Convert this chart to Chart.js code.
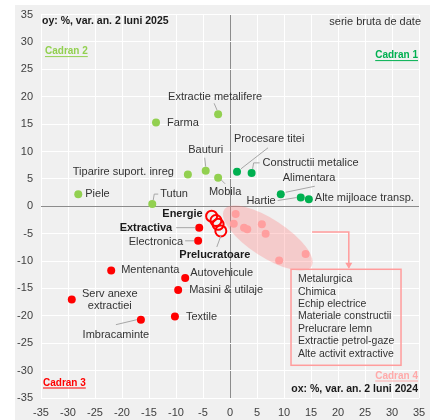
<!doctype html>
<html lang="ro">
<head>
<meta charset="UTF-8"/>
<title>Cadrane industrie</title>
<script src="https://cdn.jsdelivr.net/npm/chart.js@4.4.0/dist/chart.umd.min.js"></script>
<style>
  * { margin: 0; padding: 0; }
  body { background: #ffffff; width: 436px; height: 420px; position: relative; overflow: hidden; }
  #bg { position: absolute; left: 15px; top: 5px; width: 415px; height: 415px; background: #f0f0f0; }
  #chart { position: absolute; left: 0; top: 0; }
</style>
</head>
<body>
<div id="bg"></div>
<canvas id="chart" width="436" height="420"></canvas>
<script>
// Cadran 2 (verde deschis)
const c2Names = ['Extractie metalifere', 'Farma', 'Bauturi', 'Tiparire suport. inreg', 'Mobila', 'Piele', 'Tutun'];
const c2X = [-2.2, -13.7, -4.5, -7.8, -2.2, -28.1, -14.4];
const c2Y = [16.8, 15.3, 6.5, 5.8, 5.2, 2.2, 0.4];

// Cadran 1 (verde)
const c1Names = ['Procesare titei', 'Constructii metalice', 'Alimentara', 'Hartie', 'Alte mijloace transp.'];
const c1X = [1.3, 4.0, 9.4, 13.1, 14.6];
const c1Y = [6.3, 6.1, 2.2, 1.6, 1.3];

// Cadran 3 (rosu)
const c3Names = ['Extractiva', 'Electronica', 'Mentenanta', 'Autovehicule', 'Masini & utilaje', 'Serv anexe extractiei', 'Imbracaminte', 'Textile'];
const c3X = [-5.7, -5.9, -22.0, -8.3, -9.6, -29.3, -16.5, -10.2];
const c3Y = [-3.9, -6.3, -11.7, -13.1, -15.3, -17.0, -20.7, -20.1];

// agregate (cercuri goale)
const aggNames = ['Energie', 'Industrie', 'Extractiva total', 'Prelucratoare'];
const aggX = [-3.4, -2.6, -2.2, -1.7];
const aggY = [-1.8, -2.6, -3.3, -4.5];

// Cadran 4 (roz) - grupul din caseta
const c4Names = ['Metalurgica', 'Chimica', 'Echip electrice', 'Materiale constructii', 'Prelucrare lemn', 'Extractie petrol-gaze', 'Alte activit extractive'];
const c4X = [1.05, 0.7, 2.6, 3.2, 5.9, 6.6, 14.0, 9.1];
const c4Y = [-1.4, -3.2, -3.9, -4.2, -3.3, -5.0, -8.7, -9.9];

const axisTicks = [-35, -30, -25, -20, -15, -10, -5, 0, 5, 10, 15, 20, 25, 30, 35];

// pozitia etichetelor fata de punct (px)
const labelLayout = {
  'Extractie metalifere': { dx: -3, dy: -17, align: 'center', line: [[-4, -11], [-1, -4]] },
  'Farma': { dx: 11, dy: 0, align: 'left' },
  'Bauturi': { dx: 0, dy: -21, align: 'center', line: [[-1, -13], [0, -4]] },
  'Tiparire suport. inreg': { dx: -14, dy: -3, align: 'right' },
  'Mobila': { dx: 7, dy: 14, align: 'center', line: [[3, 2], [7, 6]] },
  'Piele': { dx: 7, dy: 0, align: 'left' },
  'Tutun': { dx: 8, dy: -10, align: 'left', line: [[1, -4], [2, -10], [6, -10]] },
  'Procesare titei': { dx: -3, dy: -33, align: 'left', line: [[31, -24], [4, -3]] },
  'Constructii metalice': { dx: 11, dy: -10, align: 'left', line: [[1, -4], [2, -10], [8, -10]] },
  'Alimentara': { dx: 2, dy: -16, align: 'left', line: [[5, -2], [34, -8]] },
  'Hartie': { dx: -25, dy: 3, align: 'right', line: [[-23, 3], [-4, 0]] },
  'Alte mijloace transp.': { dx: 6, dy: -1, align: 'left' },
  'Extractiva': { dx: -27, dy: 0, align: 'right', bold: true, line: [[-23, 0], [-4, 0]] },
  'Electronica': { dx: -15, dy: 1, align: 'right', line: [[-13, 0], [-4, 0]] },
  'Mentenanta': { dx: 10, dy: 0, align: 'left' },
  'Autovehicule': { dx: 5, dy: -5, align: 'left' },
  'Masini & utilaje': { dx: 11, dy: 0, align: 'left' },
  'Serv anexe extractiei': { dx: 38, dy: -5, align: 'center', lines: ['Serv anexe', 'extractiei'] },
  'Imbracaminte': { dx: -25, dy: 15, align: 'center', line: [[-25, 5], [-4, 0]] },
  'Textile': { dx: 11, dy: 1, align: 'left' },
  'Energie': { dx: -9, dy: -2, align: 'right', bold: true },
  'Prelucratoare': { dx: -6, dy: 24, align: 'center', bold: true, line: [[-4, 16], [0, 5]] }
};

const groupCenter = [7.0, -5.8];
const boxCorner = [11.3, -11.5];
const arrowPath = [[15.2, -4.7], [22.0, -4.7], [22.0, -11.2]];

const FONT = '"Liberation Sans", Arial, sans-serif';

function pts(xs, ys) {
  return xs.map((v, i) => ({ x: v, y: ys[i] }));
}

const annotations = {
  id: 'annotations',
  beforeDatasetsDraw(chart) {
    const ctx = chart.ctx;
    const x = chart.scales.x, y = chart.scales.y;
    ctx.save();
    ctx.fillStyle = 'rgba(255,120,120,0.3)';
    ctx.beginPath();
    ctx.ellipse(x.getPixelForValue(groupCenter[0]), y.getPixelForValue(groupCenter[1]), 52, 19, 33 * Math.PI / 180, 0, Math.PI * 2);
    ctx.fill();
    ctx.restore();
  },
  afterDatasetsDraw(chart) {
    const ctx = chart.ctx;
    const x = chart.scales.x, y = chart.scales.y;
    const area = chart.chartArea;
    ctx.save();
    ctx.textBaseline = 'middle';

    // etichete puncte
    chart.data.datasets.forEach((ds, di) => {
      const meta = chart.getDatasetMeta(di);
      (ds.names || []).forEach((name, i) => {
        const lay = labelLayout[name];
        if (!lay || !meta.data[i]) return;
        const px = meta.data[i].x, py = meta.data[i].y;
        if (lay.line) {
          ctx.strokeStyle = '#a6a6a6';
          ctx.lineWidth = 1;
          ctx.beginPath();
          lay.line.forEach((p, k) => {
            if (k === 0) ctx.moveTo(px + p[0], py + p[1]);
            else ctx.lineTo(px + p[0], py + p[1]);
          });
          ctx.stroke();
        }
        ctx.fillStyle = lay.bold ? '#1a1a1a' : '#333333';
        ctx.font = (lay.bold ? 'bold ' : '') + '11px ' + FONT;
        ctx.textAlign = lay.align;
        const lines = lay.lines || [name];
        lines.forEach((t, k) => ctx.fillText(t, px + lay.dx, py + lay.dy + k * 11.5));
      });
    });

    // sageata spre caseta
    ctx.strokeStyle = '#ff9c9c';
    ctx.fillStyle = '#ff9c9c';
    ctx.lineWidth = 1.5;
    ctx.beginPath();
    arrowPath.forEach((p, k) => {
      const ax = x.getPixelForValue(p[0]), ay = y.getPixelForValue(p[1]);
      if (k === 0) ctx.moveTo(ax, ay); else ctx.lineTo(ax, ay);
    });
    ctx.stroke();
    const last = arrowPath[arrowPath.length - 1];
    const tx = x.getPixelForValue(last[0]), ty = y.getPixelForValue(last[1]);
    ctx.beginPath();
    ctx.moveTo(tx - 3.5, ty - 5);
    ctx.lineTo(tx + 3.5, ty - 5);
    ctx.lineTo(tx, ty + 1);
    ctx.closePath();
    ctx.fill();

    // caseta cu lista
    const bx = x.getPixelForValue(boxCorner[0]), by = y.getPixelForValue(boxCorner[1]);
    ctx.lineWidth = 1.5;
    ctx.strokeRect(bx, by, 110, 96);
    ctx.fillStyle = '#333333';
    ctx.font = '10.5px ' + FONT;
    ctx.textAlign = 'left';
    c4Names.forEach((t, k) => ctx.fillText(t, bx + 7, by + 10 + k * 12.4));

    // texte axe si cadrane
    function txt(t, tx, ty, align, font, color, underline) {
      ctx.font = font;
      ctx.fillStyle = color;
      ctx.textAlign = align;
      ctx.fillText(t, tx, ty);
      if (underline) {
        const w = ctx.measureText(t).width;
        const x0 = align === 'right' ? tx - w : tx;
        ctx.strokeStyle = color;
        ctx.lineWidth = 1;
        ctx.beginPath();
        ctx.moveTo(x0, ty + 5);
        ctx.lineTo(x0 + w, ty + 5);
        ctx.stroke();
      }
    }
    txt('oy: %, var. an. 2 luni 2025', area.left + 1, area.top + 7, 'left', 'bold 10.5px ' + FONT, '#1a1a1a');
    txt('serie bruta de date', area.right + 2, area.top + 7, 'right', '11px ' + FONT, '#333333');
    txt('Cadran 2', area.left + 4, area.top + 37, 'left', 'bold 10px ' + FONT, '#92d050', true);
    txt('Cadran 1', area.right - 1, area.top + 41, 'right', 'bold 10px ' + FONT, '#00b050', true);
    txt('Cadran 3', area.left + 2, area.bottom - 15, 'left', 'bold 10px ' + FONT, '#ff0000', true);
    txt('Cadran 4', area.right - 1, area.bottom - 22, 'right', 'bold 10px ' + FONT, '#ffaaaa', true);
    txt('ox: %, var. an. 2 luni 2024', area.right - 1, area.bottom - 9, 'right', 'bold 10.5px ' + FONT, '#1a1a1a');
    ctx.restore();
  }
};

const gridColor = (c) => (c.tick && c.tick.value === 0 ? '#8c8c8c' : '#ffffff');

new Chart(document.getElementById('chart'), {
  type: 'scatter',
  data: {
    datasets: [
      { names: [], data: pts(c4X, c4Y), backgroundColor: '#ff9f9f', borderWidth: 0, pointRadius: 4 },
      { names: c2Names, data: pts(c2X, c2Y), backgroundColor: '#92d050', borderWidth: 0, pointRadius: 4 },
      { names: c1Names, data: pts(c1X, c1Y), backgroundColor: '#00b050', borderWidth: 0, pointRadius: 4 },
      { names: c3Names, data: pts(c3X, c3Y), backgroundColor: '#ff0000', borderWidth: 0, pointRadius: 4 },
      { names: aggNames, data: pts(aggX, aggY), backgroundColor: 'rgba(0,0,0,0)', borderColor: '#ff0000', borderWidth: 2, pointRadius: 5.5 }
    ]
  },
  options: {
    responsive: false,
    devicePixelRatio: 1,
    animation: false,
    layout: { padding: { top: 10, right: 17, left: 0, bottom: 0 } },
    plugins: { legend: { display: false }, tooltip: { enabled: false } },
    scales: {
      x: {
        type: 'linear', min: -35, max: 35,
        afterBuildTicks: (s) => { s.ticks = axisTicks.map(v => ({ value: v })); },
        afterFit: (s) => { s.height = 22; },
        ticks: { color: '#404040', font: { size: 11, family: FONT }, padding: 8, maxRotation: 0 },
        grid: { color: gridColor, lineWidth: 1, drawTicks: false },
        border: { display: false }
      },
      y: {
        type: 'linear', min: -35, max: 35,
        afterBuildTicks: (s) => { s.ticks = axisTicks.map(v => ({ value: v })); },
        afterFit: (s) => { s.width = 41; },
        ticks: { color: '#404040', font: { size: 11, family: FONT }, padding: 8 },
        grid: { color: gridColor, lineWidth: 1, drawTicks: false },
        border: { display: false }
      }
    }
  },
  plugins: [annotations]
});
</script>
</body>
</html>
